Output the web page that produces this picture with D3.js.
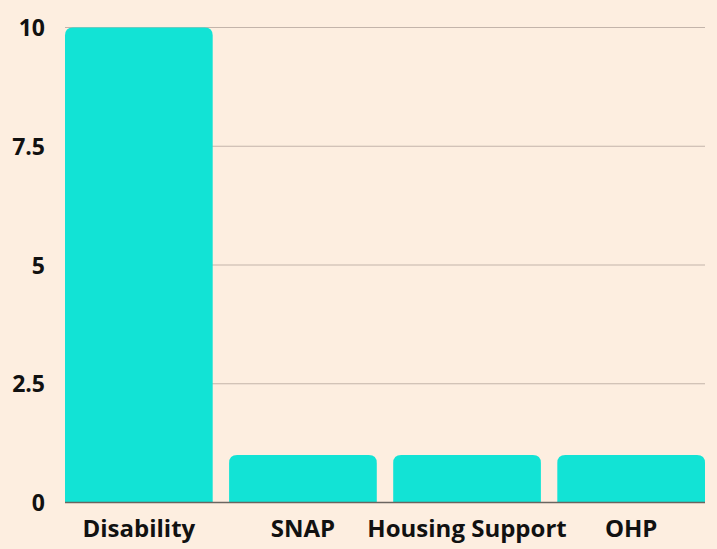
<!DOCTYPE html>
<html lang="en">
<head>
  <meta charset="UTF-8" />
  <title>Benefits</title>
  <style>
    body { margin: 0; background: #fdeee0; }
    svg { display: block; }
    text { font-family: "Open Sans", sans-serif; font-weight: 700; fill: #111; }
  </style>
</head>
<body>
  <div id="chart"></div>
  <script src="https://d3js.org/d3.v7.min.js"></script>
  <script>
    // data
    const categories = ["Disability", "SNAP", "Housing Support", "OHP"];
    const values = [10, 1, 1, 1];
    const yTicks = [0, 2.5, 5, 7.5, 10];

    const width = 717, height = 549;
    const marginLeft = 65, marginRight = 705, marginTop = 27.5, marginBottom = 502.5;

    const svg = d3.select("#chart").append("svg")
      .attr("width", width)
      .attr("height", height)
      .style("background", "#fdeee0");

    const x = d3.scaleBand()
      .domain(categories)
      .range([marginLeft, marginRight])
      .paddingInner(0.1)
      .paddingOuter(0);

    const y = d3.scaleLinear()
      .domain([0, 10])
      .range([marginBottom, marginTop]);

    // gridlines
    svg.append("g")
      .selectAll("line")
      .data(yTicks.filter(d => d > 0))
      .enter().append("line")
      .attr("x1", marginLeft)
      .attr("x2", marginRight)
      .attr("y1", d => y(d))
      .attr("y2", d => y(d))
      .attr("stroke", "#c3b4aa")
      .attr("stroke-width", 1);

    // y tick labels
    svg.append("g")
      .selectAll("text")
      .data(yTicks)
      .enter().append("text")
      .attr("x", 45)
      .attr("y", d => y(d))
      .attr("dy", "0.38em")
      .attr("text-anchor", "end")
      .style("font-size", "23px")
      .text(d => d);

    // bars with rounded top corners
    const r = 8;
    function barPath(d, i) {
      const x0 = x(categories[i]), w = x.bandwidth();
      const y0 = y(d), y1 = y(0);
      return "M" + x0 + "," + y1 +
        "V" + (y0 + r) +
        "Q" + x0 + "," + y0 + " " + (x0 + r) + "," + y0 +
        "H" + (x0 + w - r) +
        "Q" + (x0 + w) + "," + y0 + " " + (x0 + w) + "," + (y0 + r) +
        "V" + y1 + "Z";
    }
    svg.append("g")
      .selectAll("path")
      .data(values)
      .enter().append("path")
      .attr("d", barPath)
      .attr("fill", "#12e3d5");

    // baseline
    svg.append("line")
      .attr("x1", marginLeft)
      .attr("x2", marginRight)
      .attr("y1", y(0))
      .attr("y2", y(0))
      .attr("stroke", "#6b6560")
      .attr("stroke-width", 1.5);

    // x labels
    svg.append("g")
      .selectAll("text")
      .data(categories)
      .enter().append("text")
      .attr("x", d => x(d) + x.bandwidth() / 2)
      .attr("y", 537)
      .attr("text-anchor", "middle")
      .style("font-size", "24px")
      .text(d => d);
  </script>
</body>
</html>
